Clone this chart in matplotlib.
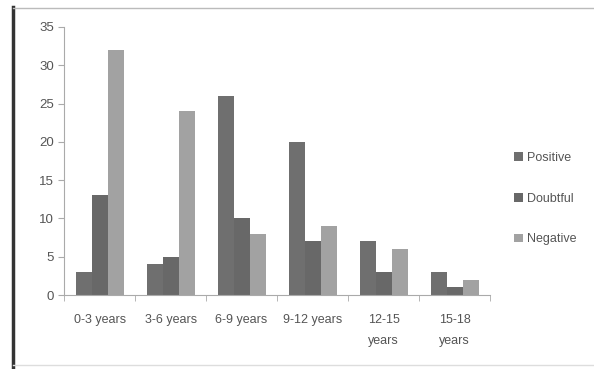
import numpy as np
import matplotlib
matplotlib.use("Agg")
import matplotlib.pyplot as plt
from matplotlib.lines import Line2D

categories = ["0-3 years", "3-6 years", "6-9 years", "9-12 years", "12-15\nyears", "15-18\nyears"]
positive = [3, 4, 26, 20, 7, 3]
doubtful = [13, 5, 10, 7, 3, 1]
negative = [32, 24, 8, 9, 6, 2]

plt.rcParams['font.family'] = ['Liberation Sans', 'DejaVu Sans']
txt = '#555555'

fig = plt.figure(figsize=(5.94, 3.69), dpi=100)
ax = fig.add_axes([0.108, 0.2005, 0.717, 0.7265])

x = np.arange(len(categories))
w = 0.225
ax.bar(x - w, positive, w, color='#6f6f6f', label='Positive')
ax.bar(x, doubtful, w, color='#686868', label='Doubtful')
ax.bar(x + w, negative, w, color='#a2a2a2', label='Negative')

ax.set_xlim(-0.5, len(categories) - 0.5)
ax.set_ylim(0, 35)
ax.set_yticks(range(0, 36, 5))
ax.set_xticks(x)
ax.set_xticklabels(categories, color=txt, fontsize=9, linespacing=2.0)
ax.set_xticks(np.arange(-0.5, len(categories), 1), minor=True)
ax.tick_params(axis='x', which='major', length=0, pad=14)
ax.tick_params(axis='x', which='minor', length=4, color='#aaaaaa')
ax.tick_params(axis='y', length=4, color='#aaaaaa', labelcolor=txt, labelsize=9.5)

for s in ['top', 'right']:
    ax.spines[s].set_visible(False)
for s in ['left', 'bottom']:
    ax.spines[s].set_color('#aaaaaa')

ax.legend(loc='center left', bbox_to_anchor=(1.03, 0.36), frameon=False,
          fontsize=9, labelcolor=txt, handlelength=0.7, handleheight=0.7,
          handletextpad=0.3, labelspacing=2.3)

# outer frame lines
fig.add_artist(Line2D([0.022, 0.022], [0.0, 0.98], color='#333333', lw=2.5, transform=fig.transFigure))
fig.add_artist(Line2D([0.022, 1.0], [0.978, 0.978], color='#bbbbbb', lw=1, transform=fig.transFigure))
fig.add_artist(Line2D([0.022, 1.0], [0.012, 0.012], color='#dddddd', lw=1, transform=fig.transFigure))

fig.savefig("out.png", dpi=100)
